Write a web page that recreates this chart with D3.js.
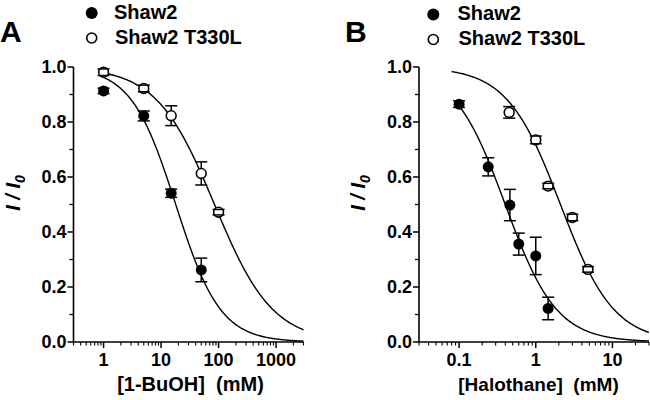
<!DOCTYPE html>
<html>
<head>
<meta charset="utf-8">
<script src="https://cdn.jsdelivr.net/npm/d3@7/dist/d3.min.js"></script>
<style>
  html, body { margin: 0; padding: 0; background: #fff; }
  svg { display: block; }
  text { font-family: "Liberation Sans", Arial, Helvetica, sans-serif; font-weight: bold; fill: #000; }
</style>
</head>
<body>
<svg id="chart" width="650" height="400"></svg>
<script>
// ---------------- DATA ----------------
const seriesNames = ["Shaw2", "Shaw2 T330L"];

// Panel A: 1-BuOH (mM)
const aShaw2X = [1, 5, 15, 50];
const aShaw2Y = [0.913, 0.822, 0.541, 0.262];
const aShaw2Err = [0.010, 0.018, 0.015, 0.043];
const aMutX = [1, 5, 15, 50, 100];
const aMutY = [0.981, 0.922, 0.823, 0.613, 0.472];
const aMutErr = [0.012, 0.012, 0.036, 0.042, 0.010];
const aFitIC50 = [18, 85];      // Shaw2, T330L
const aFitHill = [1.12, 0.86];
const aFitFrom = [1, 1];
const aFitTo = [3000, 3000];
const aXTicks = [1, 10, 100, 1000];
const aXDomain = [0.3, 3000];

// Panel B: Halothane (mM)
const bShaw2X = [0.1, 0.24, 0.46, 0.6, 1.0, 1.45];
const bShaw2Y = [0.865, 0.637, 0.498, 0.356, 0.313, 0.122];
const bShaw2Err = [0.012, 0.033, 0.057, 0.040, 0.068, 0.041];
const bMutX = [0.45, 1.0, 1.45, 3.0, 4.8];
const bMutY = [0.835, 0.735, 0.567, 0.453, 0.264];
const bMutErr = [0.021, 0.014, 0.010, 0.012, 0.010];
const bFitIC50 = [0.4, 2.1];
const bFitHill = [1.3, 1.25];
const bFitFrom = [0.096, 0.08];
const bFitTo = [30, 30];
const bXTicks = [0.1, 1, 10];
const bXDomain = [0.03, 30];

const yTicks = [0.0, 0.2, 0.4, 0.6, 0.8, 1.0];
const yMinorTicks = [0.1, 0.3, 0.5, 0.7, 0.9];

// ---------------- DRAW ----------------
const svg = d3.select("#chart");

function drawPanel(cfg) {
  const g = svg.append("g");
  const x = d3.scaleLog().domain(cfg.xDomain).range(cfg.xRange);
  const y = d3.scaleLinear().domain([0, 1]).range([342, 67]);
  const x0 = cfg.xRange[0];

  // y axis
  g.append("line").attr("x1", x0).attr("x2", x0).attr("y1", y(0)).attr("y2", y(1))
    .attr("stroke", "#000").attr("stroke-width", 1.6);
  yTicks.forEach(t => {
    g.append("line").attr("x1", x0 - 6).attr("x2", x0).attr("y1", y(t)).attr("y2", y(t))
      .attr("stroke", "#000").attr("stroke-width", 1.5);
    g.append("text").attr("x", x0 - 7).attr("y", y(t) + 6)
      .attr("text-anchor", "end").attr("font-size", 18).text(d3.format(".1f")(t));
  });
  yMinorTicks.forEach(t => {
    g.append("line").attr("x1", x0 - 4).attr("x2", x0).attr("y1", y(t)).attr("y2", y(t))
      .attr("stroke", "#000").attr("stroke-width", 1.3);
  });

  // x axis
  g.append("line").attr("x1", cfg.xRange[0]).attr("x2", cfg.xRange[1]).attr("y1", y(0)).attr("y2", y(0))
    .attr("stroke", "#000").attr("stroke-width", 1.6);
  const allTicks = x.ticks(40).filter(t => t >= cfg.xDomain[0] * 0.999 && t <= cfg.xDomain[1] * 1.001);
  allTicks.forEach(t => {
    const major = cfg.xTicks.some(m => Math.abs(m - t) / m < 1e-6);
    g.append("line").attr("x1", x(t)).attr("x2", x(t)).attr("y1", y(0)).attr("y2", y(0) + (major ? 6 : 3.5))
      .attr("stroke", "#000").attr("stroke-width", major ? 1.5 : 1.1);
  });
  cfg.xTicks.forEach(t => {
    g.append("text").attr("x", x(t)).attr("y", 366).attr("text-anchor", "middle")
      .attr("font-size", 18).text(String(t));
  });

  // axis titles
  g.append("text").attr("x", cfg.xLabelX).attr("y", 391).attr("text-anchor", "middle")
    .attr("font-size", cfg.xLabelSize).attr("xml:space", "preserve").style("white-space", "pre")
    .text(cfg.xLabel);
  const yl = g.append("text").attr("transform", `translate(${cfg.yLabelX},193) rotate(-90)`)
    .attr("text-anchor", "middle").attr("font-size", 20).attr("font-style", "italic");
  yl.append("tspan").text("I / I");
  yl.append("tspan").attr("font-size", 14).attr("dy", 5).text("0");

  // panel letter
  g.append("text").attr("x", cfg.letterX).attr("y", 41.5).attr("font-size", 30).text(cfg.letter);

  // fit curves
  const line = d3.line().x(d => x(d[0])).y(d => y(d[1]));
  for (let i = 0; i < 2; i++) {
    const lo = Math.log10(cfg.fitFrom[i]), hi = Math.log10(cfg.fitTo[i]);
    const pts = d3.range(0, 201).map(k => {
      const xv = Math.pow(10, lo + (hi - lo) * k / 200);
      return [xv, 1 / (1 + Math.pow(xv / cfg.ic50[i], cfg.hill[i]))];
    });
    g.append("path").attr("d", line(pts)).attr("fill", "none").attr("stroke", "#000").attr("stroke-width", 1.4);
  }

  // markers + error bars
  const R = 5.5, CAP = 6;
  const series = [
    { xs: cfg.s1x, ys: cfg.s1y, es: cfg.s1e, filled: true },
    { xs: cfg.s2x, ys: cfg.s2y, es: cfg.s2e, filled: false }
  ];
  series.forEach(s => {
    s.xs.forEach((xv, i) => {
      const cx = x(xv), cy = y(s.ys[i]);
      g.append("line").attr("x1", cx).attr("x2", cx).attr("y1", y(s.ys[i] + s.es[i])).attr("y2", y(s.ys[i] - s.es[i]))
        .attr("stroke", "#000").attr("stroke-width", 1.5);
    });
  });
  series.forEach(s => {
    s.xs.forEach((xv, i) => {
      const cx = x(xv), cy = y(s.ys[i]);
      g.append("circle").attr("cx", cx).attr("cy", cy).attr("r", s.filled ? R : R - 0.6)
        .attr("fill", s.filled ? "#000" : "#fff").attr("stroke", "#000").attr("stroke-width", s.filled ? 0 : 1.6);
      [s.ys[i] + s.es[i], s.ys[i] - s.es[i]].forEach(v => {
        g.append("line").attr("x1", cx - CAP).attr("x2", cx + CAP).attr("y1", y(v)).attr("y2", y(v))
          .attr("stroke", "#000").attr("stroke-width", 1.5);
      });
    });
  });

  // legend
  g.append("circle").attr("cx", cfg.legX).attr("cy", cfg.legY1 - 5.5).attr("r", 6).attr("fill", "#000");
  g.append("circle").attr("cx", cfg.legX).attr("cy", cfg.legY2 - 5.5).attr("r", 5).attr("fill", "#fff")
    .attr("stroke", "#000").attr("stroke-width", 1.6);
  g.append("text").attr("x", cfg.legTextX).attr("y", cfg.legY1).attr("font-size", 20).text(seriesNames[0]);
  g.append("text").attr("x", cfg.legTextX + 1).attr("y", cfg.legY2).attr("font-size", 20).text(seriesNames[1]);
}

drawPanel({
  xDomain: aXDomain, xRange: [73.5, 303.5], xTicks: aXTicks,
  xLabel: "[1-BuOH]  (mM)", xLabelX: 190.5, xLabelSize: 20,
  yLabelX: 20, letter: "A", letterX: 0,
  ic50: aFitIC50, hill: aFitHill, fitFrom: aFitFrom, fitTo: aFitTo,
  s1x: aShaw2X, s1y: aShaw2Y, s1e: aShaw2Err,
  s2x: aMutX, s2y: aMutY, s2e: aMutErr,
  legX: 91.7, legTextX: 114, legY1: 18.5, legY2: 43.5
});

drawPanel({
  xDomain: bXDomain, xRange: [419, 649], xTicks: bXTicks,
  xLabel: "[Halothane]  (mM)", xLabelX: 538.5, xLabelSize: 19,
  yLabelX: 365, letter: "B", letterX: 345,
  ic50: bFitIC50, hill: bFitHill, fitFrom: bFitFrom, fitTo: bFitTo,
  s1x: bShaw2X, s1y: bShaw2Y, s1e: bShaw2Err,
  s2x: bMutX, s2y: bMutY, s2e: bMutErr,
  legX: 433.3, legTextX: 457.5, legY1: 20, legY2: 45
});
</script>
</body>
</html>
